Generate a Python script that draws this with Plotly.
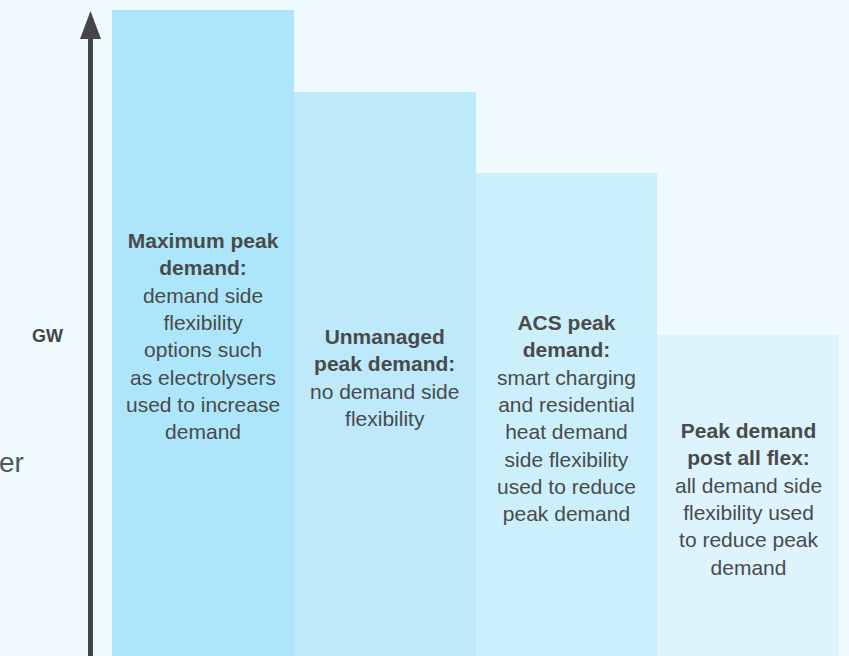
import plotly.graph_objects as go

W, H = 849, 656

scenarios = ["Maximum peak demand", "Unmanaged peak demand", "ACS peak demand", "Peak demand post all flex"]
peak_index = [100, 87.3, 74.8, 49.7]   # relative peak height, max = 100
bar_colors = ["#ade6fa", "#bde9fa", "#ccf0fb", "#ddf4fd"]

labels = [
    "<b>Maximum peak<br>demand:</b><br>demand side<br>flexibility<br>options such<br>as electrolysers<br>used to increase<br>demand",
    "<b>Unmanaged<br>peak demand:</b><br>no demand side<br>flexibility",
    "<b>ACS peak<br>demand:</b><br>smart charging<br>and residential<br>heat demand<br>side flexibility<br>used to reduce<br>peak demand",
    "<b>Peak demand<br>post all flex:</b><br>all demand side<br>flexibility used<br>to reduce peak<br>demand",
]
label_mid_px = [336, 377, 418, 499]

BG = "#eefafe"
INK = "#454545"
FONT = "Liberation Sans, Arial, sans-serif"

fig = go.Figure()
fig.add_trace(go.Bar(
    x=list(range(len(scenarios))), y=peak_index,
    width=1.0, marker=dict(color=bar_colors, line=dict(width=0)),
    hoverinfo="skip", hovertext=scenarios,
))

for i, (txt, mid) in enumerate(zip(labels, label_mid_px)):
    fig.add_annotation(x=i, y=1 - mid / H, xref="x", yref="paper",
                       text=txt, showarrow=False, align="center",
                       xanchor="center", yanchor="middle",
                       font=dict(size=21, color="#4a4a4a", family=FONT))

# axis arrow
ax_x = 90.5 / W
fig.add_shape(type="line", xref="paper", yref="paper",
              x0=ax_x, x1=ax_x, y0=-0.05, y1=1 - 38 / H,
              line=dict(color=INK, width=5))
fig.add_shape(type="path", xref="paper", yref="paper",
              path=f"M {80/W},{1-39/H} L {ax_x},{1-11/H} L {101/W},{1-39/H} Z",
              fillcolor=INK, line=dict(width=0))

fig.add_annotation(x=47 / W, y=1 - 336 / H, xref="paper", yref="paper",
                   text="<b>GW</b>", showarrow=False, xanchor="center", yanchor="middle",
                   font=dict(size=18, color=INK, family=FONT))
fig.add_annotation(x=26 / W, y=1 - 462 / H, xref="paper", yref="paper",
                   text="er", showarrow=False, xanchor="right", yanchor="middle",
                   font=dict(size=28, color="#555555", family=FONT))

# x in bar units: bars span pixels 112..839, each 181.75 wide
bw = (839 - 112) / 4
fig.update_xaxes(range=[-0.5 - 112 / bw, -0.5 + (W - 112) / bw], visible=False, fixedrange=True)
fig.update_yaxes(range=[0, 100 * H / 646], visible=False, fixedrange=True)
fig.update_layout(width=W, height=H, margin=dict(l=0, r=0, t=0, b=0),
                  paper_bgcolor=BG, plot_bgcolor=BG, showlegend=False, bargap=0)

fig.write_html("out.html", config={"displayModeBar": False},
               post_script="document.body.style.margin='0';document.body.style.overflow='hidden';")
